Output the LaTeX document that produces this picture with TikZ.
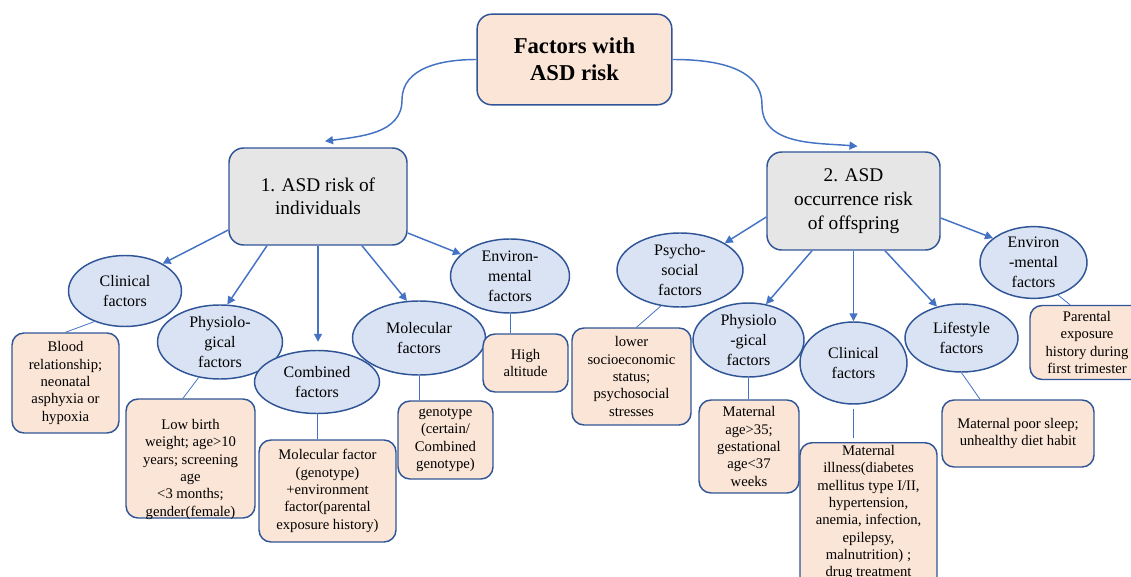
\documentclass[tikz,border=0pt]{standalone}
\usepackage{fontspec}
\setmainfont{Liberation Serif}
\usepackage{tikz}
\usetikzlibrary{arrows.meta,shapes.geometric,calc}
\definecolor{lineblue}{RGB}{68,114,196}
\definecolor{edgeblue}{RGB}{47,85,151}
\definecolor{ovalblue}{RGB}{218,227,243}
\definecolor{peach}{RGB}{251,229,214}
\definecolor{boxgray}{RGB}{231,230,230}

\begin{document}
\begin{tikzpicture}[
  x=0.75pt, y=-0.75pt,
  head/.style={draw=edgeblue, line width=1.1pt, rounded corners=11pt, align=center, inner sep=0pt},
  fac/.style={ellipse, draw=edgeblue, fill=ovalblue, line width=1.1pt, inner sep=0pt, align=center, font=\fontsize{12}{15}\selectfont},
  item/.style={draw=edgeblue, fill=peach, line width=1.1pt, rounded corners=9pt, inner sep=0pt, align=center, font=\fontsize{11}{13}\selectfont},
  arr/.style={-{Triangle[length=6pt,width=6pt]}, draw=lineblue, line width=1.1pt},
  link/.style={draw=lineblue, line width=0.6pt}
]
\useasboundingbox (0,0) rectangle (1131,577);
\clip (0,0) rectangle (1131,577);

% top and the two groups
\node[head, fill=peach, minimum width=146pt, minimum height=68pt, font=\fontsize{17}{20}\selectfont\bfseries] (title) at (574.5,59.5) {Factors with\\ASD risk};
\node[head, fill=boxgray, minimum width=133.5pt, minimum height=72.75pt, font=\fontsize{14.5}{17.5}\selectfont] (box1) at (318,196.5) {1. ASD risk of\\individuals};
\node[head, fill=boxgray, minimum width=129.75pt, minimum height=73.5pt, font=\fontsize{14.5}{18}\selectfont] (box2) at (853.5,201) {2. ASD\\occurrence risk\\of offspring};

\coordinate (in1) at ($(box1.north)+(7,-6)$);
\coordinate (in2) at ($(box2.north)+(4,-5)$);
\draw[arr] (title.west) to[out=180,in=90] (402,100) to[out=-90,in=8] (in1);
\draw[arr] (title.east) to[out=0,in=90] (762,105) to[out=-90,in=175] (in2);

% individuals
\node[fac, minimum width=84.75pt, minimum height=53.25pt] (clin1) at (125,291) {Clinical\\factors};
\node[fac, minimum width=93.75pt, minimum height=55.5pt] (phys1) at (220,342) {Physiolo-\\gical\\factors};
\node[fac, minimum width=99.75pt, minimum height=55.5pt] (molec) at (419,338) {Molecular\\factors};
\node[fac, minimum width=93.75pt, minimum height=47.25pt] (comb) at (317,382) {Combined\\factors};
\node[fac, minimum width=89.25pt, minimum height=55.5pt] (env1) at (510,276) {Environ-\\mental\\factors};

\node[item, minimum width=80.25pt, minimum height=75pt] (blood) at (65.5,383) {Blood\\relationship;\\neonatal\\asphyxia or\\hypoxia};
\node[item, minimum width=96.75pt, minimum height=89.25pt, text height=87.75pt, text depth=1.5pt] (low) at (190.5,458.5) {Low birth\\weight; age>10\\years; screening\\age\\<3 months;\\gender(female)};
\node[item, minimum width=102.75pt, minimum height=76.5pt] (molf) at (327.5,491) {Molecular factor\\(genotype)\\+environment\\factor(parental\\exposure history)};
\node[item, minimum width=71.25pt, minimum height=58.5pt] (geno) at (445.5,440) {genotype\\(certain/\\Combined\\genotype)};
\node[item, minimum width=63.75pt, minimum height=43.5pt] (alt) at (525.5,363) {High\\altitude};

\draw[arr] ($(box1.west)+(0,33.5)$) -- (clin1.36);
\draw[arr] ($(box1.south)+(-51,0)$) -- (phys1.79);
\draw[arr, shorten >=6pt] (box1.south) -- (box1.south |- comb.north);
\draw[arr] ($(box1.south)+(44,0)$) -- (molec.108);
\draw[arr] ($(box1.east)+(0,36.5)$) -- (env1.156);

\draw[link] (clin1.-135) -- (blood.north);
\draw[link] (phys1.-121) -- ($(low.north)+(-7.5,0)$);
\draw[link] (comb.south) -- (comb.south |- molf.north);
\draw[link] (molec.south) -- (molec.south |- geno.north);
\draw[link] (env1.south) -- (env1.south |- alt.north);

% offspring
\node[fac, minimum width=94.5pt, minimum height=55.5pt] (psy) at (680,270) {Psycho-\\social\\factors};
\node[fac, minimum width=83.25pt, minimum height=55.5pt] (phys2) at (748.5,340) {Physiolo\\-gical\\factors};
\node[fac, minimum width=80.25pt, minimum height=61.5pt] (clin2) at (853.5,363) {Clinical\\factors};
\node[fac, minimum width=84.75pt, minimum height=51pt] (life) at (961.5,338) {Lifestyle\\factors};
\node[fac, minimum width=80.25pt, minimum height=47.25pt] (env2) at (1033.5,262.5) {Environ\\-mental\\factors};

\node[item, minimum width=89.25pt, minimum height=72.75pt] (lower) at (631.5,376.5) {lower\\socioeconomic\\status;\\psychosocial\\stresses};
\node[item, minimum width=75pt, minimum height=69.75pt] (mage) at (749,446.5) {Maternal\\age>35;\\gestational\\age<37\\weeks};
\node[item, anchor=north, minimum width=102.75pt, text height=100.5pt, text depth=10pt] (ill) at (868.5,442) {Maternal\\illness(diabetes\\mellitus type I/II,\\hypertension,\\anemia, infection,\\epilepsy,\\malnutrition) ;\\drug treatment};
\node[item, minimum width=114pt, minimum height=50.25pt] (sleep) at (1018,433.5) {Maternal poor sleep;\\unhealthy diet habit};
\node[item, minimum width=85.5pt, minimum height=55.5pt] (parent) at (1087,342.5) {Parental\\exposure\\history during\\first trimester};

\draw[arr] ($(box2.west)+(0,16)$) -- (psy.31);
\draw[arr] ($(box2.south)+(-41.5,0)$) -- (phys2.64);
\draw[arr] (box2.south) -- (clin2.north);
\draw[arr] ($(box2.south)+(31.5,0)$) -- (life.128);
\draw[arr] ($(box2.east)+(0,17)$) -- (env2.149);

\draw[link] (psy.-118) -- ($(lower.north)+(5,0)$);
\draw[link] (phys2.south) -- (phys2.south |- mage.north);
\draw[link, shorten <=3pt, shorten >=3pt] (clin2.south) -- (clin2.south |- ill.north);
\draw[link] (life.south) -- ($(sleep.north)+(-38,0)$);
\draw[link] (env2.-53) -- ($(parent.north)+(-17,0)$);
\end{tikzpicture}
\end{document}
